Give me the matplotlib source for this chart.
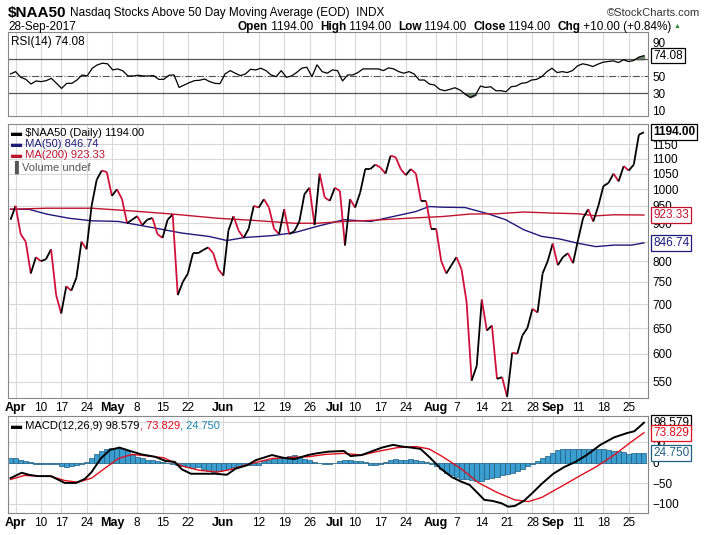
import numpy as np
import pandas as pd
import matplotlib
matplotlib.use("Agg")
import matplotlib.pyplot as plt
from matplotlib.collections import LineCollection
from matplotlib.ticker import FixedLocator, NullLocator
import matplotlib.transforms as mtrans

plt.rcParams['font.family'] = ['Liberation Sans', 'DejaVu Sans']

# ---------------- data ----------------
price = [910, 950, 870, 850, 770, 810, 800, 805, 830, 720,
         680, 740, 730, 760, 850, 830, 950, 1030, 1060, 1055,
         980, 1000, 970, 900, 910, 920, 895, 910, 915, 870,
         860, 910, 925, 720, 750, 770, 820, 820, 828, 835, 820,
         780, 765, 880, 920, 880, 860, 885, 950, 945, 970,
         945, 885, 870, 940, 870, 878, 905, 985, 1005, 895,
         1050, 975, 965, 1005, 995, 840, 970, 945, 990, 1065,
         1065, 1080, 1070, 1050, 1110, 1105, 1065, 1045, 1065, 1050,
         965, 965, 885, 885, 800, 770, 790, 810, 780, 705,
         552, 578, 710, 645, 655, 555, 558, 525, 602, 600,
         635, 650, 690, 682, 770, 800, 845, 790, 810, 820,
         795, 855, 915, 940, 905, 950, 1010, 1020, 1050, 1025,
         1075, 1060, 1080, 1185, 1194]

ma50_x = [0, 3.6, 7.1, 11.6, 16.0, 21.3, 27.6, 33.8, 39.1, 42.7, 46.2, 51.6, 56.0, 60.4,
          65.8, 71.1, 75.5, 79.9, 82.6, 85.3, 89.7, 94.2, 97.7, 101.3, 104.8, 108.4,
          111.9, 115.5, 119.1, 122.6, 125]
ma50_v = [940, 940, 926, 914, 907, 905, 889, 873, 864, 853, 861, 866, 874, 891,
          910, 905, 919, 933, 948, 946, 945, 927, 910, 882, 864, 857, 846, 837, 841, 841, 846.74]

ma200_x = [0, 7.1, 16.0, 23.1, 32.0, 40.9, 48.0, 56.0, 60.4, 65.8, 71.1, 78.2, 85.3,
           90.6, 96.0, 101.3, 106.6, 111.9, 115.5, 119.1, 125]
ma200_v = [940, 943, 943, 936, 926, 914, 908, 900, 900, 905, 908, 914, 919,
           926, 927, 932, 929, 927, 921, 924, 923.33]

rsi = [52.6, 55.3, 48.6, 46.2, 40.7, 44.3, 43.5, 44.7, 47.4, 41.5, 35.5, 41.5, 41.5, 45.4,
       51.4, 50.2, 59.3, 63.3, 65.2, 64.5, 57.3, 58.5, 56.1, 50.2, 50.2, 51.0, 50.2, 50.2,
       50.6, 46.2, 46.2, 51.0, 51.4, 36.7, 39.5, 42.3, 44.7, 45.1, 46.6, 43.5, 41.5, 41.1,
       52.6, 56.5, 53.4, 50.6, 52.6, 58.1, 57.3, 59.3, 56.5, 51.4, 49.4, 56.5, 48.6, 50.2,
       54.2, 59.3, 60.5, 49.4, 63.3, 55.3, 53.4, 57.3, 56.5, 44.3, 51.4, 51.4, 54.2, 58.5,
       58.5, 58.5, 58.5, 56.5, 59.7, 58.5, 55.3, 53.4, 55.3, 52.6, 45.4, 45.4, 40.7, 39.5,
       34.4, 32.8, 34.4, 36.3, 33.6, 28.8, 24.9, 27.6, 38.3, 36.7, 37.5, 32.8, 32.8, 31.6,
       37.5, 38.3, 41.5, 42.3, 45.4, 46.2, 49.4, 55.3, 59.3, 54.2, 55.3, 54.2, 56.5, 62.1,
       64.5, 63.3, 61.3, 64.1, 66.4, 67.2, 68.0, 66.0, 69.2, 67.2, 68.4, 72.4, 74.08]

macd_x = [0, 2.2, 3.6, 5.4, 8.0, 10.7, 12.9, 14.7, 16.0, 17.8, 19.6, 21.5, 23.6, 25.8,
          28.5, 30.7, 32.4, 33.8, 35.6, 38.2, 40.4, 42.7, 44.4, 46.7, 48.4, 51.6, 53.8,
          56.0, 58.7, 60.4, 62.7, 65.8, 67.1, 69.3, 71.1, 73.3, 75.5, 77.3, 79.1, 80.9,
          82.6, 84.9, 87.1, 88.9, 90.6, 92.4, 93.5, 95.1, 96.9, 98.2, 99.5, 101.3, 103.1,
          104.8, 107.1, 109.3, 111.5, 113.7, 116.4, 119.1, 121.7, 123.1, 125]
macd_v = [-37.5, -24.2, -29.2, -32.5, -32.5, -49.2, -49.2, -39.2, -22.5, 10.8, 31.7, 37.5,
          29.2, 20.8, 15, 4.2, 2.5, -15.8, -26.7, -26.7, -26.7, -29.2, -14.2, -5.8, 6.7,
          19.2, 12.5, 9.2, 19.2, 23.3, 27.5, 29.2, 16.7, 19.2, 27.5, 37.5, 44.2, 40, 37.5,
          34.2, 15, -14.2, -35, -45.8, -54.2, -76.7, -90.8, -93.3, -99.2, -107.5, -105.8,
          -93.3, -72.5, -51.7, -26.7, -10, 2.5, 19.2, 44.2, 62.5, 73.3, 77.5, 98.579]

sig_x = [0, 2.7, 5.4, 8, 10.7, 13.3, 16, 18.7, 21.3, 24, 26.7, 30.2, 33.8, 37.3, 40.9,
         43.6, 46.2, 48.9, 51.6, 55.1, 58.7, 62.2, 65.8, 69.3, 72.9, 76.4, 80, 82.6, 85.3,
         88.9, 92.4, 96, 99.5, 102.2, 104.8, 108.4, 111.9, 115.5, 119.1, 122.6, 125]
sig_v = [-40.8, -30.8, -32.5, -33.3, -43.3, -47.5, -37.5, -12.5, 10.8, 20.8, 17.5, 12.5,
         -7.5, -18.3, -22.5, -15.8, -5.8, 2.5, 10.8, 13.3, 15, 20.8, 23.3, 19.2, 29.2, 37.5,
         40, 34.2, 15, -14.2, -49.2, -72.5, -90.8, -95, -85, -60, -35, -10, 19.2, 52.5, 73.829]

hist = [12, 12, 8, 5, 2, -2, -3, -3, -4, -3, -8, -10, -8, -6, -3, 3, 12, 22, 30, 35,
        36, 36, 33, 28, 20, 15, 12, 8, 6, 4, 3, 0, -3, -5, -8, -10, -12, -10, -15, -20,
        -22, -20, -18, -15, -10, -8, -6, -6, -5, -5, 5, 8, 10, 12, 15, 18, 20, 15, 10, 6,
        3, 0, -2, -2, 0, 5, 8, 6, 4, 5, 3, -5, -5, -3, 3, 8, 10, 8, 8, 10,
        8, 5, 2, -3, -8, -15, -25, -30, -35, -40, -40, -42, -45, -45, -40, -38, -35, -30, -28, -25,
        -20, -15, -8, -2, 5, 12, 18, 25, 32, 35, 35, 35, 34, 33, 33, 34, 35, 34, 32, 30,
        28, 26, 22, 25, 25, 24.75]

# ---------------- dates ----------------
hol = pd.to_datetime(["2017-04-14", "2017-05-29", "2017-07-04", "2017-09-04"])
days = pd.bdate_range("2017-03-01", "2017-09-28")
days = days[~days.isin(hol)]
N = len(price)
days = days[-N:]
starts = [i for i in range(1, N) if days[i].month != days[i - 1].month]
tick_pos, tick_lab, tick_bold = [], [], []
for i, d in enumerate(days):
    if i in starts:
        tick_pos.append(i); tick_lab.append(d.strftime("%b")); tick_bold.append(True)
    elif d.weekday() == 0 and i > 0 and all(abs(i - s) > 3 for s in starts):
        tick_pos.append(i); tick_lab.append(str(d.day)); tick_bold.append(False)

W, H = 705, 535
fig = plt.figure(figsize=(W / 100, H / 100), dpi=100)
L, R = 8, 648
def axrect(top, bot):
    return [L / W, 1 - bot / H, (R - L) / W, (bot - top) / H]

ax_r = fig.add_axes(axrect(32, 116))
ax_p = fig.add_axes(axrect(124, 398))
ax_m = fig.add_axes(axrect(416, 513))
grid_c = "#d8d8d8"
for ax in (ax_r, ax_p, ax_m):
    ax.set_xlim(-0.5, N - 0.2)
    ax.set_xticks(tick_pos)
    ax.tick_params(axis='x', length=0, labelbottom=False)
    ax.tick_params(axis='y', length=0, labelsize=8.5, pad=3, labelright=True, labelleft=False)
    for v in tick_pos:
        ax.axvline(v, color=grid_c, lw=0.8, zorder=0)
    for s in ax.spines.values():
        s.set_color("#888888"); s.set_linewidth(0.8)

def set_datelabels(ax):
    ax.tick_params(axis='x', labelbottom=True, pad=3)
    ax.set_xticklabels(tick_lab)
    for t, b in zip(ax.get_xticklabels(), tick_bold):
        t.set_fontsize(9 if b else 8.5)
        t.set_fontweight('bold' if b else 'normal')

def valbox(ax, y, txt, color, bold=False, edge=None):
    tr = mtrans.blended_transform_factory(ax.transAxes, ax.transData)
    ax.text(1.008, y, txt, transform=tr, va='center', ha='left', fontsize=8.5,
            color=color, fontweight='bold' if bold else 'normal',
            bbox=dict(boxstyle='square,pad=0.15', fc='white', ec=edge or color, lw=0.9),
            zorder=10, clip_on=False)

# ---------------- RSI ----------------
ax_r.set_ylim(3, 102)
ax_r.yaxis.set_major_locator(FixedLocator([10, 30, 50, 90]))
ax_r.axhline(70, color="#555555", lw=0.9)
ax_r.axhline(30, color="#555555", lw=0.9)
ax_r.axhline(50, color="#555555", lw=0.8, ls='-.')
xr = np.linspace(0, N - 1, len(rsi))
ax_r.plot(xr, rsi, color='black', lw=0.9)
ra = np.array(rsi)
ax_r.fill_between(xr, ra, 70, where=ra > 70, color="#6f8f6f", interpolate=True)
ax_r.fill_between(xr, ra, 30, where=ra < 30, color="#6f8f6f", interpolate=True)
ax_r.text(0.005, 0.95, "RSI(14) 74.08", transform=ax_r.transAxes, fontsize=8.5, va='top')
valbox(ax_r, 74.08, "74.08", 'black')

# ---------------- price ----------------
ax_p.set_yscale('log')
ax_p.set_ylim(523, 1225)
ticks = [550, 600, 650, 700, 750, 800, 850, 900, 950, 1000, 1050, 1100, 1150]
ax_p.yaxis.set_major_locator(FixedLocator(ticks))
ax_p.yaxis.set_minor_locator(NullLocator())
ax_p.set_yticklabels([str(t) for t in ticks])
for t in ticks:
    ax_p.axhline(t, color=grid_c, lw=0.8, zorder=0)
xp = np.arange(N)
pa = np.array(price, dtype=float)
segs = [[(xp[i], pa[i]), (xp[i + 1], pa[i + 1])] for i in range(N - 1)]
cols = ['black' if pa[i + 1] >= pa[i] else '#d0103a' for i in range(N - 1)]
ax_p.add_collection(LineCollection(segs, colors=cols, linewidths=1.3, zorder=4))
ax_p.plot(ma50_x, ma50_v, color="#1f1a7a", lw=1.0, zorder=3)
ax_p.plot(ma200_x, ma200_v, color="#c0142e", lw=1.0, zorder=3)
leg = [("$NAA50 (Daily) 1194.00", 'black'), ("MA(50) 846.74", '#1f1a7a'),
       ("MA(200) 923.33", '#c0142e'), ("Volume undef", '#555555')]
for k, (t, c) in enumerate(leg):
    ax_p.text(0.005, 0.985 - k * 0.04, ("\u25AC " if k < 3 else "\u2590 ") + t,
              transform=ax_p.transAxes, fontsize=8, color=c, va='top')
valbox(ax_p, 1194, "1194.00", 'black', bold=True)
valbox(ax_p, 923.33, "923.33", '#c0142e')
valbox(ax_p, 846.74, "846.74", '#1f1a7a')
set_datelabels(ax_p)

# ---------------- MACD ----------------
ax_m.set_ylim(-123, 115)
ax_m.yaxis.set_major_locator(FixedLocator([-100, -50, 0, 50]))
for t in [-100, -50, 0, 50, 100]:
    ax_m.axhline(t, color=grid_c, lw=0.8, zorder=0)
ax_m.bar(np.arange(len(hist)), hist, width=1.0, color="#3a9fd0", edgecolor="#1d5c80", lw=0.5, zorder=2)
ax_m.plot(sig_x, sig_v, color="#e0101e", lw=1.0, zorder=3)
ax_m.plot(macd_x, macd_v, color="black", lw=1.4, zorder=4)

fig.canvas.draw()
t = ax_m.text(0.005, 0.95, "\u25AC MACD(12,26,9) 98.579", transform=ax_m.transAxes, fontsize=8, va='top')
fig.canvas.draw()
x1 = ax_m.transAxes.inverted().transform((t.get_window_extent().x1, 0))[0]
t = ax_m.text(x1, 0.95, ", 73.829", transform=ax_m.transAxes, fontsize=8, va='top', color='#e0101e')
fig.canvas.draw()
x1 = ax_m.transAxes.inverted().transform((t.get_window_extent().x1, 0))[0]
ax_m.text(x1, 0.95, ", 24.750", transform=ax_m.transAxes, fontsize=8, va='top', color='#1f86b0')
valbox(ax_m, 98.579, "98.579", 'black')
valbox(ax_m, 73.829, "73.829", '#e0101e')
valbox(ax_m, 24.75, "24.750", '#1f5f80', edge='#1f5f80')
set_datelabels(ax_m)

# ---------------- header ----------------
t0 = fig.text(8 / W, 1 - 13 / H, "$NAA50", fontsize=11, fontweight='bold', va='center')
fig.canvas.draw()
fig.text((t0.get_window_extent().x1 + 3) / W, 1 - 13 / H,
         "Nasdaq Stocks Above 50 Day Moving Average (EOD)  INDX", fontsize=8.5, va='center')
fig.text(700 / W, 1 - 13 / H, "\u00a9StockCharts.com", fontsize=8, va='center', ha='right', color='#333333')
fig.text(8 / W, 1 - 27 / H, "28-Sep-2017", fontsize=8.5, va='center')
x = 238
for lab, val in [("Open", " 1194.00  "), ("High", " 1194.00  "), ("Low", " 1194.00  "),
                 ("Close", " 1194.00  "), ("Chg", " +10.00 (+0.84%)")]:
    t1 = fig.text(x / W, 1 - 27 / H, lab, fontsize=8.5, fontweight='bold', va='center')
    fig.canvas.draw()
    bb = t1.get_window_extent()
    t2 = fig.text(bb.x1 / W, 1 - 27 / H, val, fontsize=8.5, va='center')
    fig.canvas.draw()
    x = t2.get_window_extent().x1
fig.text((x + 2) / W, 1 - 27 / H, "\u25B2", fontsize=5, va='center', color='#2e8b2e')

fig.savefig("out.png", dpi=100)
